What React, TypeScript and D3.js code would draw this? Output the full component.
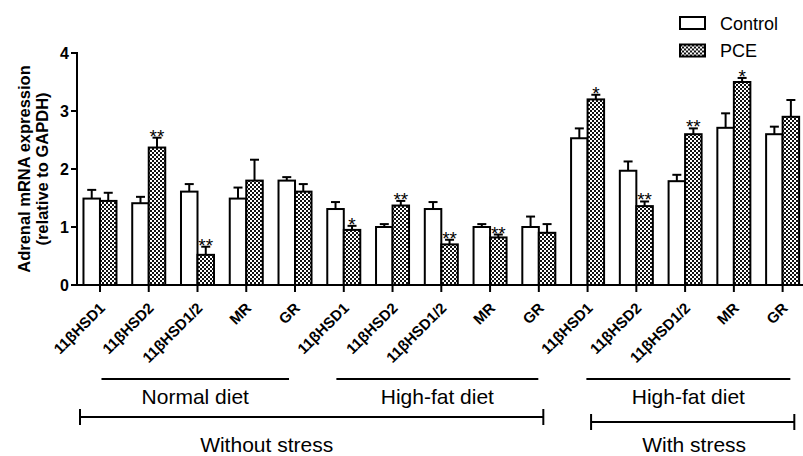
import React from "react";
import * as d3 from "d3";

// genes measured in each condition
const genes = ["11βHSD1", "11βHSD2", "11βHSD1/2", "MR", "GR"];
const conditions = ["normal", "highfat", "highfatStress"];
const categories = conditions.flatMap((c) => genes.map((g) => c + "|" + g));
const series = ["Control", "PCE"];

// values (mean and SEM)
const controlMean = [1.49, 1.41, 1.61, 1.49, 1.8, 1.31, 1.0, 1.31, 1.0, 1.0, 2.53, 1.97, 1.79, 2.71, 2.6];
const controlSem = [0.15, 0.11, 0.13, 0.19, 0.06, 0.12, 0.05, 0.12, 0.05, 0.18, 0.17, 0.16, 0.11, 0.25, 0.13];
const pceMean = [1.45, 2.37, 0.52, 1.8, 1.61, 0.95, 1.37, 0.7, 0.82, 0.9, 3.2, 1.36, 2.6, 3.5, 2.9];
const pceSem = [0.14, 0.17, 0.14, 0.36, 0.13, 0.07, 0.08, 0.08, 0.05, 0.15, 0.08, 0.08, 0.1, 0.07, 0.29];
const pceStars = ["", "**", "**", "", "", "*", "**", "**", "**", "", "*", "**", "**", "*", ""];
const yTicks = [0, 1, 2, 3, 4];

const subGroups = ["Normal diet", "High-fat diet", "High-fat diet"];
const subGroupRange = [[0, 4], [5, 9], [10, 14]];
const stressGroups = ["Without stress", "With stress"];
const stressRange = [[0, 9], [10, 14]];

// layout
const W = 803;
const H = 456;
const axisX = 77;
const font = "'Liberation Sans', Arial, sans-serif";
const subInset = [[1.5, -6], [-7.4, -0.5], [-1.2, 7.7]];
const bracketInset = [[-20, 4.5], [3.5, 11.7]];
const bracketY = [417, 422];
const bracketTextDx = [-45, 1.5];

export default function App() {
  const x = d3.scaleBand<string>().domain(categories).range([75.6, 807]).padding(0);
  const inner = d3
    .scaleBand<string>()
    .domain(series)
    .range([0, x.bandwidth()])
    .paddingInner(0)
    .paddingOuter(0.477);
  const y = d3.scaleLinear().domain([0, 4]).range([285, 53]);
  const cx = (i: number) => (x(categories[i]) as number) + x.bandwidth() / 2;
  const bw = inner.bandwidth();

  const bars: any[] = [];
  categories.forEach((c, i) => {
    [
      { s: "Control", m: controlMean[i], e: controlSem[i], star: "" },
      { s: "PCE", m: pceMean[i], e: pceSem[i], star: pceStars[i] },
    ].forEach((d) => {
      const x0 = (x(c) as number) + (inner(d.s) as number);
      const mid = x0 + bw / 2;
      const top = y(d.m + d.e);
      bars.push(
        <g key={c + d.s}>
          <line x1={mid} x2={mid} y1={y(d.m)} y2={top} stroke="#000" strokeWidth={2} />
          <line x1={mid - 4.5} x2={mid + 4.5} y1={top} y2={top} stroke="#000" strokeWidth={2} />
          <rect
            x={x0}
            y={y(d.m)}
            width={bw}
            height={y(0) - y(d.m)}
            fill={d.s === "PCE" ? "url(#checker)" : "#fff"}
            stroke="#000"
            strokeWidth={2}
          />
          {d.star && (
            <text x={mid} y={top + 5} textAnchor="middle" fontSize={19} fontFamily={font}>
              {d.star}
            </text>
          )}
        </g>
      );
    });
  });

  return (
    <svg width={W} height={H} style={{ position: "absolute", left: 0, top: 0, background: "#fff" }}>
      <defs>
        <pattern id="checker" width={4} height={4} patternUnits="userSpaceOnUse">
          <rect width={4} height={4} fill="#fff" />
          <rect width={2} height={2} fill="#111" />
          <rect x={2} y={2} width={2} height={2} fill="#111" />
        </pattern>
      </defs>

      {bars}

      {/* axes */}
      <line x1={axisX} x2={axisX} y1={y(4) - 1} y2={y(0)} stroke="#000" strokeWidth={2} />
      <line x1={axisX - 1} x2={W} y1={y(0)} y2={y(0)} stroke="#000" strokeWidth={2} />
      {yTicks.map((t) => (
        <g key={t}>
          <line x1={axisX - 6} x2={axisX} y1={y(t)} y2={y(t)} stroke="#000" strokeWidth={2} />
          <text
            x={axisX - 8}
            y={y(t)}
            dy="0.36em"
            textAnchor="end"
            fontSize={16}
            fontWeight="bold"
            fontFamily={font}
          >
            {t}
          </text>
        </g>
      ))}
      {categories.map((c, i) => (
        <g key={c}>
          <line x1={cx(i)} x2={cx(i)} y1={y(0)} y2={y(0) + 7} stroke="#000" strokeWidth={2} />
          <text
            transform={`translate(${cx(i) + 6},${y(0) + 24}) rotate(-45)`}
            textAnchor="end"
            fontSize={15}
            fontWeight="bold"
            fontFamily={font}
          >
            {c.split("|")[1]}
          </text>
        </g>
      ))}

      {/* y title */}
      <g transform="translate(30,169) rotate(-90)" fontFamily={font} fontWeight="bold" fontSize={16.5}>
        <text textAnchor="middle">Adrenal mRNA expression</text>
        <text textAnchor="middle" y={17.5}>(relative to GAPDH)</text>
      </g>

      {/* group annotations */}
      {subGroups.map((g, k) => {
        const x1 = cx(subGroupRange[k][0]) + subInset[k][0];
        const x2 = cx(subGroupRange[k][1]) + subInset[k][1];
        return (
          <g key={k}>
            <line x1={x1} x2={x2} y1={379} y2={379} stroke="#000" strokeWidth={2} />
            <text x={(x1 + x2) / 2} y={404} textAnchor="middle" fontSize={21} fontFamily={font}>
              {g}
            </text>
          </g>
        );
      })}
      {stressGroups.map((g, k) => {
        const x1 = cx(stressRange[k][0]) + bracketInset[k][0];
        const x2 = cx(stressRange[k][1]) + bracketInset[k][1];
        const by = bracketY[k];
        return (
          <g key={k} stroke="#000" strokeWidth={2}>
            <line x1={x1} x2={x2} y1={by} y2={by} />
            <line x1={x1} x2={x1} y1={by - 8} y2={by + 8} />
            <line x1={x2} x2={x2} y1={by - 8} y2={by + 8} />
            <text
              x={(x1 + x2) / 2 + bracketTextDx[k]}
              y={452}
              textAnchor="middle"
              fontSize={21}
              fontFamily={font}
              stroke="none"
            >
              {g}
            </text>
          </g>
        );
      })}

      {/* legend */}
      {series.map((s, k) => (
        <g key={s} transform={`translate(680,${17 + k * 27.5})`}>
          <rect width={25} height={12} fill={s === "PCE" ? "url(#checker)" : "#fff"} stroke="#000" strokeWidth={2} />
          <text x={40} y={12.5} fontSize={18} fontFamily={font}>
            {s}
          </text>
        </g>
      ))}
    </svg>
  );
}
